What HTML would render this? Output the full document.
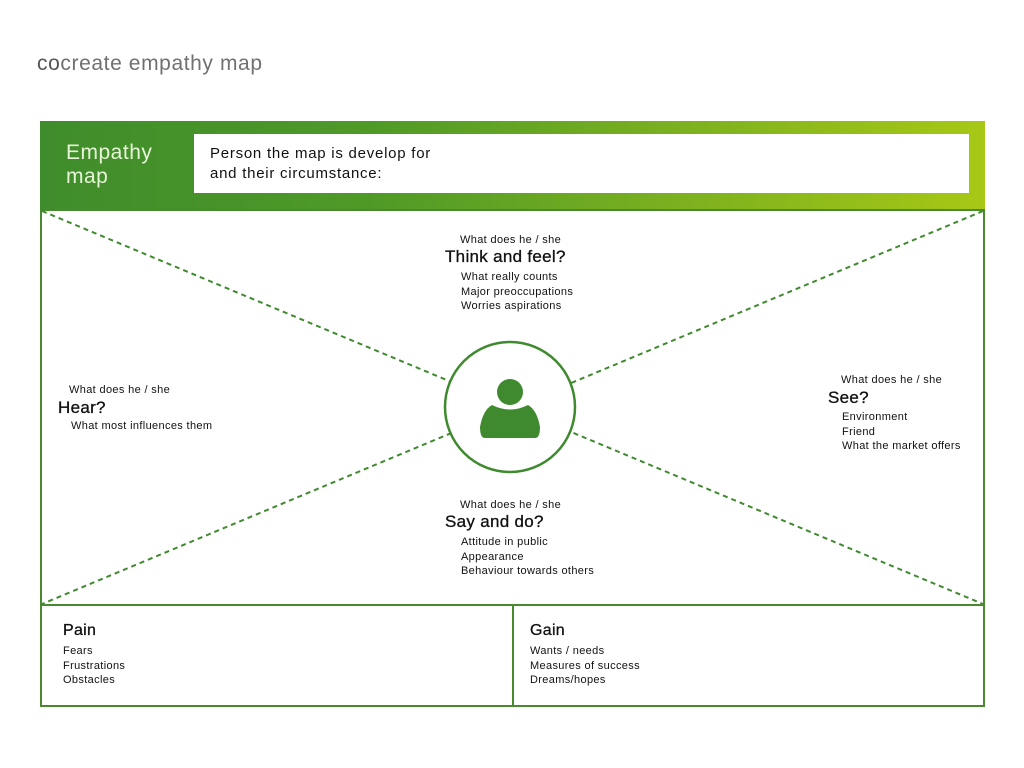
<!DOCTYPE html>
<html><head><meta charset="utf-8"><style>
body{margin:0;width:1024px;height:768px;background:#fff;position:relative;font-family:"Liberation Sans",sans-serif;color:#111;overflow:hidden}
.a{position:absolute;white-space:nowrap}
.s{font-size:11px;letter-spacing:0.35px}
.h{font-size:17px;letter-spacing:0.3px;-webkit-text-stroke:0.3px #111}
</style></head><body>
<div class="a" style="left:37px;top:52px;font-size:21px;letter-spacing:0.6px;color:#707070"><span style="color:#555">co</span>create empathy map</div>
<div class="a" style="left:40px;top:121px;width:945px;height:89px;background:linear-gradient(90deg,#3f8c2c 0%,#4f9a27 35%,#7fb21f 70%,#a7c815 100%)"></div>
<div class="a" style="left:194px;top:134px;width:775px;height:59px;background:#fff"></div>
<div class="a" style="left:66px;top:141px;font-size:21px;line-height:24px;letter-spacing:0.5px;color:#e8f5d8">Empathy<br>map</div>
<div class="a" style="left:210px;top:144px;font-size:15px;line-height:20px;letter-spacing:0.75px">Person the map is develop for<br>and their circumstance:</div>
<svg class="a" style="left:0;top:0" width="1024" height="768">
<rect x="41" y="210" width="943" height="496" fill="none" stroke="#4a8a2e" stroke-width="2"/>
<line x1="41" y1="605" x2="984" y2="605" stroke="#4a8a2e" stroke-width="2"/>
<line x1="513" y1="605" x2="513" y2="706" stroke="#4a8a2e" stroke-width="2"/>
<g stroke="#3f8a2e" stroke-width="2" stroke-dasharray="5,4">
<line x1="42" y1="211" x2="983" y2="604"/>
<line x1="983" y1="211" x2="42" y2="604"/>
</g>
<circle cx="510" cy="407" r="65" fill="#fff" stroke="#3f8a2e" stroke-width="2.5"/>
<circle cx="510" cy="392" r="13" fill="#3f8a2e"/>
<path d="M480 427 Q483 410 492 405 Q510 414 528 405 Q537 410 540 427 Q540 438 535 438 L485 438 Q480 438 480 427Z" fill="#3f8a2e"/>
</svg>
<div class="a s" style="left:460px;top:234px">What does he / she</div>
<div class="a h" style="left:445px;top:247px">Think and feel?</div>
<div class="a s" style="left:461px;top:270px;line-height:14.5px">What really counts<br>Major preoccupations<br>Worries aspirations</div>
<div class="a s" style="left:69px;top:384px">What does he / she</div>
<div class="a h" style="left:58px;top:398px">Hear?</div>
<div class="a s" style="left:71px;top:420px">What most influences them</div>
<div class="a s" style="left:841px;top:374px">What does he / she</div>
<div class="a h" style="left:828px;top:388px">See?</div>
<div class="a s" style="left:842px;top:410px;line-height:14.5px">Environment<br>Friend<br>What the market offers</div>
<div class="a s" style="left:460px;top:499px">What does he / she</div>
<div class="a h" style="left:445px;top:512px">Say and do?</div>
<div class="a s" style="left:461px;top:535px;line-height:14.5px">Attitude in public<br>Appearance<br>Behaviour towards others</div>
<div class="a h" style="left:63px;top:622px;font-size:16px">Pain</div>
<div class="a s" style="left:63px;top:644px;line-height:14.5px">Fears<br>Frustrations<br>Obstacles</div>
<div class="a h" style="left:530px;top:622px;font-size:16px">Gain</div>
<div class="a s" style="left:530px;top:644px;line-height:14.5px">Wants / needs<br>Measures of success<br>Dreams/hopes</div>
</body></html>
